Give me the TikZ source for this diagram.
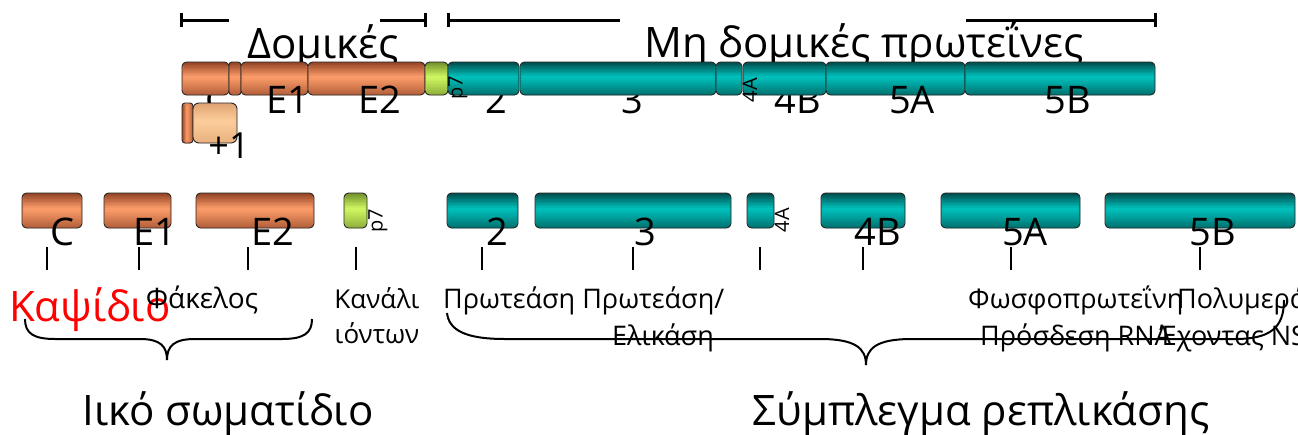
\documentclass[tikz,border=0pt]{standalone}
\usepackage{fontspec}
\usetikzlibrary{calc}
\setmainfont{Open Sans}
\newcommand\fsz[1]{\fontsize{#1}{#1}\selectfont}
\definecolor{orD}{HTML}{8E4022}
\definecolor{orL}{HTML}{F99A68}
\definecolor{teD}{HTML}{004848}
\definecolor{teL}{HTML}{00BEB9}
\definecolor{grD}{HTML}{6E8C28}
\definecolor{grL}{HTML}{CDF460}
\definecolor{peD}{HTML}{E0A272}
\definecolor{peL}{HTML}{FBCC9A}
\tikzset{
  gfill/.style 2 args={fill=#2!75!#1, path picture={
    \foreach \i in {0,...,23}{
      \pgfmathsetmacro\ta{\i/24}
      \pgfmathsetmacro\tb{min(1,(\i+1.4)/24)}
      \pgfmathsetmacro\tm{(\i+0.5)/24}
      \pgfmathtruncatemacro\pp{\tm<0.5 ? min(100,\tm*230) : 100-(\tm-0.5)*130}
      \colorlet{gc}{#2!\pp!#1}
      \fill[gc] ($(path picture bounding box.north west)!\ta!(path picture bounding box.south west)+(-2pt,0)$)
        rectangle ($(path picture bounding box.north east)!\tb!(path picture bounding box.south east)+(2pt,0)$);
    }}},
  hfill/.style 2 args={fill=#2!75!#1, path picture={
    \foreach \i in {0,...,11}{
      \pgfmathsetmacro\ta{\i/12}
      \pgfmathsetmacro\tb{min(1,(\i+1.4)/12)}
      \pgfmathsetmacro\tm{(\i+0.5)/12}
      \pgfmathtruncatemacro\pp{\tm<0.5 ? min(100,\tm*230) : 100-(\tm-0.5)*130}
      \colorlet{gc}{#2!\pp!#1}
      \fill[gc] ($(path picture bounding box.north west)!\ta!(path picture bounding box.north east)$)
        rectangle ($(path picture bounding box.south west)!\tb!(path picture bounding box.south east)$);
    }}}
}
\begin{document}
\begin{tikzpicture}[x=1pt,y=-1pt,
  seg/.style={draw=black!85, line width=0.9pt, rounded corners=4.5pt, inner sep=0pt, minimum height=33pt},
  bseg/.style={seg, minimum height=35pt},
  org/.style={gfill={orD}{orL}},
  tea/.style={gfill={teD}{teL}},
  grn/.style={gfill={grD}{grL}},
  lbl/.style={font=\fsz{38}, inner sep=0pt, anchor=base},
  rlbl/.style={font=\fsz{20}, inner sep=0pt, rotate=90},
  sml/.style={font=\fsz{27}, inner sep=0pt, anchor=base},
  big/.style={font=\fsz{42}, inner sep=0pt, anchor=base},
  brk/.style={line width=3pt},
  tck/.style={line width=2.5pt},
  brace/.style={line width=2pt}
]
\useasboundingbox (0,0) rectangle (1298,434);
% top brackets
\draw[brk] (181,13) -- (181,27);
\draw[brk] (181,20) -- (229,20);
\draw[brk] (380,20) -- (425,20);
\draw[brk] (425,13) -- (425,27);
\draw[brk] (448,13) -- (448,27);
\draw[brk] (448,20) -- (620,20);
\draw[brk] (966,20) -- (1155,20);
\draw[brk] (1155,13) -- (1155,27);
\node[big] (tDom) at (323,58) {Δομικές};
\node[big] (tNon) at (864,57) {Μη δομικές πρωτεΐνες};
% labels hidden under the bar
\node[lbl] (lC) at (217,113) {C};
\node[lbl] (l2) at (496,113) {2};
\node[lbl] (l3) at (632,113) {3};
\node[lbl] (l4B) at (798,113) {4B};
% top bar
\node[seg, org, minimum width=47pt] (tC) at (205.5,78.5) {};
\node[seg, org, minimum width=12pt, rounded corners=3pt] (tS) at (235,78.5) {};
\node[seg, org, minimum width=67pt] (tE1) at (274.5,78.5) {};
\node[seg, org, minimum width=117pt] (tE2) at (366.5,78.5) {};
\node[seg, grn, minimum width=23pt] (tp7) at (436.5,78.5) {};
\node[seg, tea, minimum width=71pt] (t2) at (483.5,78.5) {};
\node[seg, tea, minimum width=196pt] (t3) at (618,78.5) {};
\node[seg, tea, minimum width=26pt] (t4A) at (729,78.5) {};
\node[seg, tea, minimum width=83pt] (t4B) at (784.5,78.5) {};
\node[seg, tea, minimum width=139pt] (t5A) at (895.5,78.5) {};
\node[seg, tea, minimum width=190pt] (t5B) at (1060,78.5) {};
% +1
\node[seg, hfill={orD}{orL}, minimum width=11pt, minimum height=40pt, rounded corners=3pt] (pS) at (187.5,123) {};
\node[seg, gfill={peD}{peL}, minimum width=44pt, minimum height=40pt, rounded corners=6pt] (pB) at (215,123) {};
\node[lbl, font=\fsz{36}] (lp1) at (229,158) {+1};
% visible top labels
\node[lbl] (lE1) at (288,113) {E1};
\node[lbl] (lE2) at (380,113) {E2};
\node[lbl] (l5A) at (912,113) {5A};
\node[lbl] (l5B) at (1068,113) {5B};
\node[rlbl] (lp7) at (458,88) {p7};
\node[rlbl] (l4A) at (750,90) {4A};
% bottom row
\node[bseg, org, minimum width=60pt] (bC) at (52,210.5) {};
\node[bseg, org, minimum width=67pt] (bE1) at (137.5,210.5) {};
\node[bseg, org, minimum width=118pt] (bE2) at (255,210.5) {};
\node[bseg, grn, minimum width=23pt] (bp7) at (355.5,210.5) {};
\node[bseg, tea, minimum width=71pt] (b2) at (482.5,210.5) {};
\node[bseg, tea, minimum width=196pt] (b3) at (633,210.5) {};
\node[bseg, tea, minimum width=27pt] (b4A) at (760.5,210.5) {};
\node[bseg, tea, minimum width=84pt] (b4B) at (863,210.5) {};
\node[bseg, tea, minimum width=139pt] (b5A) at (1010.5,210.5) {};
\node[bseg, tea, minimum width=190pt] (b5B) at (1200,210.5) {};
\node[lbl] (mC) at (62,245) {C};
\node[lbl] (mE1) at (155,245) {E1};
\node[lbl] (mE2) at (273,245) {E2};
\node[lbl] (m2) at (497,245) {2};
\node[lbl] (m3) at (645,245) {3};
\node[lbl] (m4B) at (878,245) {4B};
\node[lbl] (m5A) at (1025,245) {5A};
\node[lbl] (m5B) at (1213,245) {5B};
\node[rlbl] (mp7) at (378,221) {p7};
\node[rlbl] (m4A) at (782,220) {4A};
% ticks
\foreach \x in {47,139,248,356,482,633,760,863,1011,1200}
  \draw[tck] (\x,247) -- (\x,270);
% function labels
\node[big, anchor=base west, text=red] (kap) at (9,321) {Καψίδιο};
\node[sml, font=\fsz{28}] (fak) at (202,308) {Φάκελος};
\node[sml, font=\fsz{26}] (kan) at (377,308) {Κανάλι};
\node[sml, font=\fsz{26}] (ion) at (377,343) {ιόντων};
\node[sml, anchor=base west] (prot) at (443,308) {Πρωτεάση Πρωτεάση/};
\node[sml] (elik) at (663,345) {Ελικάση};
\node[sml, anchor=base west] (fosf) at (968,308) {Φωσφοπρωτεΐνη};
\node[sml, anchor=base west] (pros) at (980,345) {Πρόσδεση RNA};
\node[sml, anchor=base west] (pol) at (1177,308) {Πολυμεράση};
\node[sml, anchor=base west] (exo) at (1160,345) {Έχοντας NS3};
% braces
\draw[brace] (25,319) .. controls (25,333) and (33,339) .. (55,339) -- (140,339)
  .. controls (160,339) and (167,346) .. (167,360);
\draw[brace] (312,319) .. controls (312,333) and (304,339) .. (282,339) -- (195,339)
  .. controls (174,339) and (167,346) .. (167,360);
\draw[brace] (447,313) .. controls (449,330) and (465,339) .. (505,339) -- (820,339)
  .. controls (855,339) and (866,348) .. (866,365);
\draw[brace] (1284,300) .. controls (1284,328) and (1270,339) .. (1235,339) -- (912,339)
  .. controls (877,339) and (866,348) .. (866,365);
% titles
\node[big] (vir) at (228,425) {Ιικό σωματίδιο};
\node[big] (rep) at (981,425) {Σύμπλεγμα ρεπλικάσης};
\end{tikzpicture}
\end{document}
